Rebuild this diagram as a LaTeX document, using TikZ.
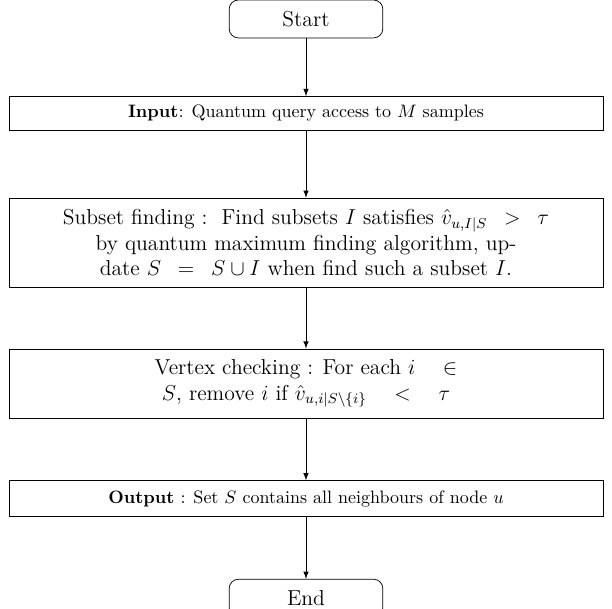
\documentclass[tikz,border=0pt]{standalone}
\usepackage{amssymb}
\usepackage{amsmath}
\usetikzlibrary{positioning}
\tikzset{startstop/.style={rectangle,rounded corners=0.18cm,draw,font=\large,minimum width=3cm,minimum height=0.74cm,inner sep=0pt},}
\tikzstyle{process} = [rectangle,draw,minimum width=11.6cm,align=center,inner sep=0.1cm]
\tikzstyle{arrow} = [-latex]
\usepgflibrary{arrows}

\begin{document}
\begin{tikzpicture}[node distance=1.2cm]
                    \useasboundingbox (-5.975,0.37) rectangle (5.975,-11.52);
                    \node[startstop] (start) {Start};
                    \node[process,minimum height=0.66cm] (in) [below = 1.13cm of start]
                        {\textbf{Input}: Quantum query access to $M$ samples};
                    \node[process,font=\large,minimum height=1.74cm] (sub) [below = 1.31cm of in]
                        {Subset finding\ :\ \ Find subsets $I$ satisfies $\hat{v}_{u,I|S} \enspace > \enspace \tau$\\
                         by quantum maximum finding algorithm, up-\\
                         date $S \enspace = \enspace S \cup I$ when find such a subset $I$.};
                    \node[process,font=\large,minimum height=1.35cm] (vc) [below = 1.19cm of sub]
                        {Vertex checking : For each $i \quad \in$\\
                         $S$, remove $i$ if $\hat{v}_{u,i|S\setminus\{i\}} \quad < \quad \tau$};
                    \node[process,minimum height=0.7cm] (out) [below = 1.21cm of vc]
                        {\textbf{Output} : Set $S$ contains all neighbours of node $u$};
                    \node[startstop] (end) [below = 1.21cm of out] {End};
                    \draw[arrow] (start) -- (in);
                    \draw[arrow] (in) -- (sub);
                    \draw[arrow] (sub) -- (vc);
                    \draw[arrow] (vc) -- (out);
                    \draw[arrow] (out) -- (end);
                \end{tikzpicture}
\end{document}
